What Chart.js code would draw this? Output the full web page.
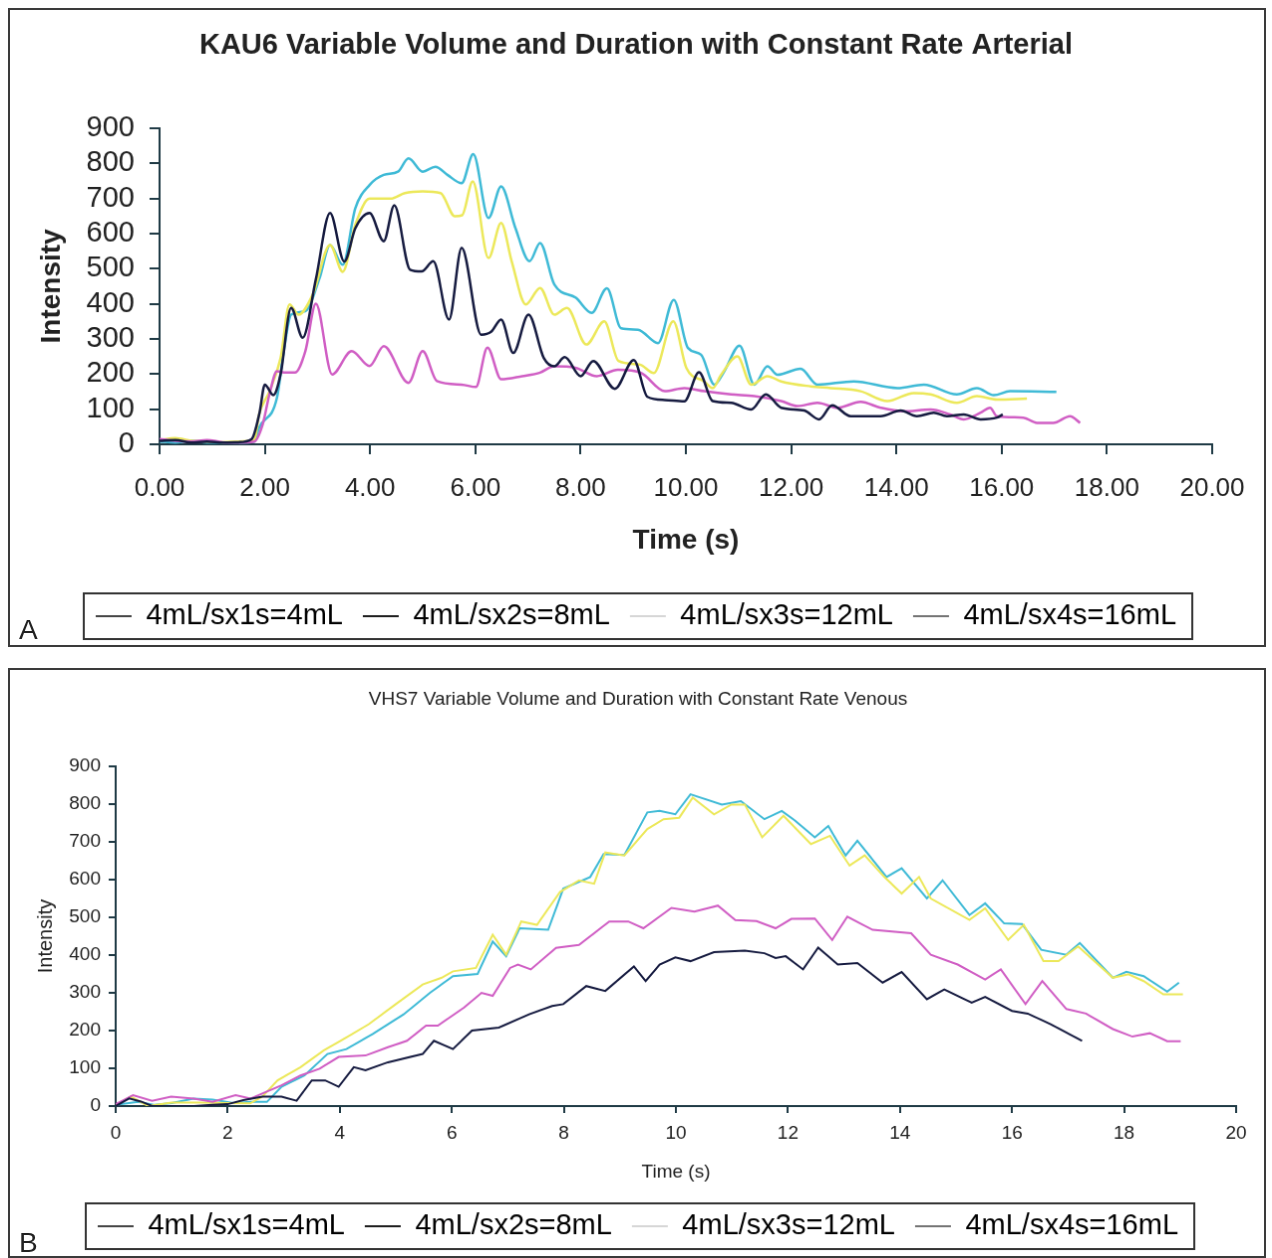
<!DOCTYPE html>
<html>
<head>
<meta charset="utf-8">
<title>Variable Volume and Duration with Constant Rate</title>
<script src="https://cdn.jsdelivr.net/npm/chart.js@4.4.0/dist/chart.umd.min.js"></script>
<style>
  body { margin: 0; background: #fff; width: 1272px; height: 1258px; overflow: hidden; position: relative; }
  canvas { position: absolute; border: 2px solid #3a3a3a; }
  #chartA { left: 8px; top: 8px; }
  #chartB { left: 8px; top: 668px; }
  .panel { position: absolute; left: 19px; font: 28px/28px 'Liberation Sans', Arial, sans-serif; color: #222; }
</style>
</head>
<body>
<canvas id="chartA" width="1258" height="639"></canvas>
<canvas id="chartB" width="1258" height="590"></canvas>
<div class="panel" style="top:616px">A</div>
<div class="panel" style="top:1229px">B</div>
<script>
// series names
var seriesLabels = ['4mL/sx1s=4mL', '4mL/sx2s=8mL', '4mL/sx3s=12mL', '4mL/sx4s=16mL'];

// --- A: arterial (time in s, intensity) ---
var art1T = [0, 0.3, 0.6, 0.9, 1.2, 1.5, 1.75, 1.9, 2.0, 2.16, 2.3, 2.5, 2.72, 2.97, 3.24, 3.51, 3.72, 3.99, 4.26, 4.46, 4.76, 4.98, 5.2, 5.5, 5.74, 6.11, 6.3, 6.49, 6.72, 7.01, 7.3, 7.5, 7.7, 8.0, 8.24, 8.65, 9.01, 9.27, 9.6, 9.97, 10.25, 10.51, 10.86, 11.24, 11.52, 11.81, 12.25, 12.53, 12.78, 13.13, 13.7, 14.08, 14.39, 14.71, 14.96, 15.28, 15.6, 15.91, 16.02];
var art1Y = [10, 12, 5, 8, 5, 6, 15, 90, 170, 140, 200, 388, 303, 470, 658, 520, 615, 658, 578, 680, 497, 492, 521, 355, 559, 312, 320, 355, 260, 369, 246, 222, 248, 194, 237, 158, 240, 135, 126, 122, 205, 123, 118, 99, 142, 104, 96, 71, 111, 80, 80, 96, 80, 90, 80, 85, 71, 76, 85];

var art2T = [0, 0.3, 0.6, 0.9, 1.2, 1.5, 1.8, 1.96, 2.1, 2.23, 2.4, 2.57, 2.77, 2.97, 3.28, 3.65, 3.99, 4.26, 4.73, 5.0, 5.27, 5.74, 6.01, 6.23, 6.49, 6.89, 7.23, 7.5, 7.9, 8.31, 8.71, 9.15, 9.6, 9.97, 10.35, 10.86, 11.3, 11.81, 12.12, 12.5, 12.88, 13.32, 13.7, 14.14, 14.65, 15.02, 15.28, 15.6, 15.78, 15.91, 16.41, 16.67, 16.98, 17.3, 17.49];
var art2Y = [15, 10, 8, 12, 6, 5, 8, 57, 150, 208, 204, 204, 265, 400, 199, 265, 223, 279, 175, 265, 180, 170, 163, 275, 185, 194, 204, 222, 218, 194, 212, 203, 151, 160, 151, 142, 137, 123, 109, 118, 104, 121, 104, 94, 99, 85, 71, 90, 104, 80, 76, 61, 61, 80, 61];

var art3T = [0, 0.3, 0.6, 0.9, 1.2, 1.5, 1.8, 1.89, 2.09, 2.3, 2.47, 2.64, 2.91, 3.24, 3.48, 3.72, 3.99, 4.39, 4.66, 5.0, 5.34, 5.61, 5.75, 5.95, 6.25, 6.49, 6.69, 6.96, 7.23, 7.5, 7.74, 8.11, 8.45, 8.72, 9.12, 9.39, 9.76, 10.01, 10.35, 10.51, 10.67, 10.98, 11.24, 11.55, 11.81, 12.37, 12.75, 13.32, 13.83, 14.33, 14.65, 15.15, 15.53, 15.91, 16.48];
var art3Y = [12, 18, 10, 8, 6, 8, 12, 85, 151, 246, 398, 369, 426, 567, 491, 625, 699, 699, 715, 720, 715, 649, 652, 748, 530, 630, 521, 398, 445, 369, 388, 284, 350, 237, 227, 203, 350, 217, 179, 160, 198, 250, 170, 194, 179, 165, 160, 151, 123, 146, 142, 118, 137, 127, 130];

var art4T = [0, 0.3, 0.6, 0.9, 1.2, 1.5, 1.8, 1.89, 2.23, 2.36, 2.5, 2.77, 3.04, 3.24, 3.48, 3.72, 3.99, 4.26, 4.53, 4.73, 5.0, 5.24, 5.47, 5.74, 5.96, 6.25, 6.49, 6.76, 7.03, 7.23, 7.5, 7.91, 8.21, 8.5, 8.77, 9.09, 9.47, 9.77, 10.04, 10.29, 10.54, 10.73, 11.02, 11.3, 11.55, 11.74, 12.18, 12.5, 13.19, 14.02, 14.52, 15.15, 15.53, 15.85, 16.16, 17.04];
var art4Y = [8, 5, 10, 5, 5, 5, 8, 47, 132, 265, 369, 379, 473, 567, 511, 672, 738, 767, 776, 814, 776, 790, 767, 743, 826, 644, 734, 616, 521, 573, 455, 417, 374, 444, 330, 326, 288, 411, 274, 255, 170, 208, 281, 170, 222, 198, 215, 170, 179, 160, 170, 142, 160, 140, 151, 149];

// --- B: venous ---
var ven1T = [0, 0.24, 0.45, 0.65, 1.0, 1.4, 1.73, 2.0, 2.28, 2.62, 2.96, 3.23, 3.5, 3.74, 3.98, 4.25, 4.46, 4.86, 5.48, 5.68, 6.02, 6.36, 6.84, 7.38, 7.79, 7.99, 8.4, 8.74, 9.25, 9.46, 9.71, 9.99, 10.26, 10.68, 11.23, 11.58, 11.78, 11.96, 12.27, 12.54, 12.89, 13.24, 13.69, 14.03, 14.48, 14.79, 15.28, 15.52, 16.0, 16.28, 16.69, 17.25];
var ven1Y = [0, 20, 12, 0, 0, 0, 3, 5, 16, 25, 25, 14, 68, 68, 51, 103, 95, 116, 138, 173, 151, 200, 208, 243, 265, 270, 318, 305, 370, 331, 375, 394, 384, 408, 412, 405, 392, 397, 362, 420, 375, 379, 327, 355, 283, 309, 274, 289, 252, 245, 217, 173];

var ven2T = [0, 0.31, 0.65, 0.99, 1.39, 1.73, 2.14, 2.41, 2.69, 2.96, 3.3, 3.64, 3.98, 4.46, 4.86, 5.2, 5.54, 5.75, 6.22, 6.53, 6.73, 7.04, 7.18, 7.41, 7.86, 8.27, 8.81, 9.15, 9.42, 9.92, 10.33, 10.75, 11.06, 11.44, 11.78, 12.06, 12.48, 12.79, 13.06, 13.51, 14.2, 14.55, 15.03, 15.52, 15.8, 16.24, 16.54, 16.97, 17.32, 17.8, 18.15, 18.46, 18.77, 19.01];
var ven2Y = [5, 29, 14, 25, 20, 11, 29, 20, 38, 55, 81, 99, 130, 134, 156, 173, 213, 213, 261, 300, 292, 366, 375, 362, 419, 427, 489, 489, 471, 525, 515, 531, 493, 490, 471, 496, 497, 440, 502, 467, 458, 401, 375, 335, 362, 270, 331, 257, 245, 204, 184, 193, 172, 172];

var ven3T = [0, 0.27, 0.58, 1.0, 1.5, 2.0, 2.4, 2.62, 2.89, 3.3, 3.71, 4.12, 4.52, 5.0, 5.48, 5.82, 6.02, 6.43, 6.73, 6.97, 7.24, 7.52, 7.93, 8.27, 8.54, 8.74, 9.08, 9.49, 9.78, 10.06, 10.3, 10.68, 10.99, 11.23, 11.54, 11.92, 12.41, 12.75, 13.1, 13.37, 13.72, 14.03, 14.34, 14.55, 15.24, 15.52, 15.93, 16.21, 16.56, 16.83, 17.18, 17.8, 18.08, 18.35, 18.7, 19.05];
var ven3Y = [3, 25, 0, 9, 9, 8, 7, 25, 68, 103, 147, 182, 217, 270, 322, 340, 357, 366, 454, 401, 489, 480, 567, 598, 589, 672, 664, 734, 760, 764, 817, 773, 799, 799, 712, 769, 694, 716, 637, 664, 607, 563, 607, 550, 493, 524, 440, 480, 384, 384, 423, 340, 349, 331, 296, 296];

var ven4T = [0, 0.4, 0.7, 1.0, 1.39, 1.73, 2.1, 2.41, 2.7, 2.96, 3.37, 3.78, 4.12, 4.59, 5.14, 5.61, 6.02, 6.46, 6.73, 6.97, 7.21, 7.72, 7.99, 8.47, 8.71, 9.08, 9.49, 9.71, 9.99, 10.26, 10.82, 11.16, 11.58, 11.89, 12.13, 12.48, 12.72, 13.03, 13.24, 13.76, 14.03, 14.48, 14.76, 15.24, 15.52, 15.86, 16.18, 16.52, 16.97, 17.21, 17.8, 18.04, 18.35, 18.77, 18.98];
var ven4Y = [3, 11, 3, 8, 20, 17, 8, 11, 11, 51, 81, 138, 151, 191, 243, 300, 344, 350, 436, 397, 471, 467, 576, 607, 668, 665, 778, 782, 773, 826, 799, 808, 760, 782, 756, 712, 742, 664, 703, 607, 630, 550, 598, 506, 537, 484, 482, 414, 401, 432, 340, 356, 344, 303, 327];

// styles
var lineColors = ['#161b40', '#d05ec4', '#ece85a', '#3fbad6'];
var legendShades = ['#454545', '#1e1e1e', '#d6d6d6', '#747474'];
var axisColor = '#1f3a45';
var font = "'Liberation Sans', Arial, sans-serif";

Chart.defaults.font.family = font;
Chart.defaults.color = '#222';

function pairs(ts, ys) {
    return ts.map(function (t, i) {
        return { x: t, y: ys[i] };
    });
}

function makeDatasets(list, width, smooth) {
    return list.map(function (s, i) {
        return {
            label: seriesLabels[i],
            data: pairs(s[0], s[1]),
            borderColor: lineColors[i],
            borderWidth: width,
            pointRadius: 0,
            fill: false,
            tension: smooth ? 0.4 : 0,
            cubicInterpolationMode: smooth ? 'monotone' : 'default'
        };
    });
}

// box around the legend like the excel one
var legendBox = {
    id: 'legendBox',
    afterDraw: function (chart) {
        var boxes = chart.legend && chart.legend.legendHitBoxes;
        if (!boxes || !boxes.length) return;
        var last = boxes[boxes.length - 1];
        var mid = boxes[0].top + boxes[0].height / 2;
        var ctx = chart.ctx;
        ctx.save();
        ctx.strokeStyle = '#333';
        ctx.lineWidth = 2;
        ctx.strokeRect(boxes[0].left - 12, mid - 23, last.left + last.width + 16 - (boxes[0].left - 12), 46);
        ctx.restore();
    }
};

function legendOpts() {
    return {
        position: 'bottom',
        labels: {
            font: { size: 29 },
            color: '#222',
            boxWidth: 36,
            boxHeight: 2,
            padding: 20,
            generateLabels: function (chart) {
                return chart.data.datasets.map(function (ds, i) {
                    return {
                        text: ds.label,
                        fillStyle: legendShades[i],
                        strokeStyle: legendShades[i],
                        lineWidth: 0,
                        hidden: false,
                        datasetIndex: i
                    };
                });
            }
        }
    };
}

new Chart(document.getElementById('chartA'), {
    type: 'line',
    data: {
        datasets: makeDatasets([[art1T, art1Y], [art2T, art2Y], [art3T, art3Y], [art4T, art4Y]], 2.5, true)
    },
    options: {
        responsive: false,
        animation: false,
        layout: { padding: { left: 50, right: 52, top: 0, bottom: 4.5 } },
        plugins: {
            title: {
                display: true,
                text: 'KAU6 Variable Volume and Duration with Constant Rate Arterial',
                font: { size: 29, weight: 'bold' },
                color: '#222',
                padding: { top: 19, bottom: 65 }
            },
            legend: legendOpts(),
            tooltip: { enabled: false }
        },
        scales: {
            x: {
                type: 'linear',
                min: 0,
                max: 20,
                afterFit: function (scale) { scale.height = 138.5; },
                ticks: {
                    stepSize: 2,
                    autoSkip: false,
                    font: { size: 26 },
                    color: '#222',
                    padding: 19,
                    callback: function (v) { return Number(v).toFixed(2); }
                },
                grid: { drawOnChartArea: false, drawTicks: true, tickLength: 10, color: axisColor, lineWidth: 2 },
                border: { display: true, color: axisColor, width: 2 },
                title: { display: true, text: 'Time (s)', font: { size: 28, weight: 'bold' }, color: '#222', padding: { top: 0, bottom: 24 } }
            },
            y: {
                min: 0,
                max: 900,
                afterFit: function (scale) { scale.width = 100; },
                ticks: { stepSize: 100, autoSkip: false, font: { size: 29 }, color: '#222', padding: 15 },
                grid: { drawOnChartArea: false, drawTicks: true, tickLength: 10, color: axisColor, lineWidth: 2 },
                border: { display: true, color: axisColor, width: 2 },
                title: { display: true, text: 'Intensity', font: { size: 28, weight: 'bold' }, color: '#222', padding: { top: -25, bottom: 0 } }
            }
        }
    },
    plugins: [legendBox]
});

new Chart(document.getElementById('chartB'), {
    type: 'line',
    data: {
        datasets: makeDatasets([[ven1T, ven1Y], [ven2T, ven2Y], [ven3T, ven3Y], [ven4T, ven4Y]], 2, false)
    },
    options: {
        responsive: false,
        animation: false,
        layout: { padding: { left: 30, right: 28, top: 0, bottom: 5.5 } },
        plugins: {
            title: {
                display: true,
                text: 'VHS7 Variable Volume and Duration with Constant Rate Venous',
                font: { size: 19, weight: 'normal' },
                color: '#222',
                padding: { top: 18.6, bottom: 55.6 }
            },
            legend: legendOpts(),
            tooltip: { enabled: false }
        },
        scales: {
            x: {
                type: 'linear',
                min: 0,
                max: 20,
                afterFit: function (scale) { scale.height = 86.5; },
                ticks: { stepSize: 2, autoSkip: false, font: { size: 19 }, color: '#222', padding: 9.6 },
                grid: { drawOnChartArea: false, drawTicks: true, tickLength: 7, color: axisColor, lineWidth: 2 },
                border: { display: true, color: axisColor, width: 2 },
                title: { display: true, text: 'Time (s)', font: { size: 19 }, color: '#222', padding: { top: 0, bottom: 8 } }
            },
            y: {
                min: 0,
                max: 900,
                afterFit: function (scale) { scale.width = 76; },
                ticks: { stepSize: 100, autoSkip: false, font: { size: 19 }, color: '#222', padding: 8 },
                grid: { drawOnChartArea: false, drawTicks: true, tickLength: 7, color: axisColor, lineWidth: 2 },
                border: { display: true, color: axisColor, width: 2 },
                title: { display: true, text: 'Intensity', font: { size: 20 }, color: '#222', padding: { top: -6, bottom: 0 } }
            }
        }
    },
    plugins: [legendBox]
});
</script>
</body>
</html>
